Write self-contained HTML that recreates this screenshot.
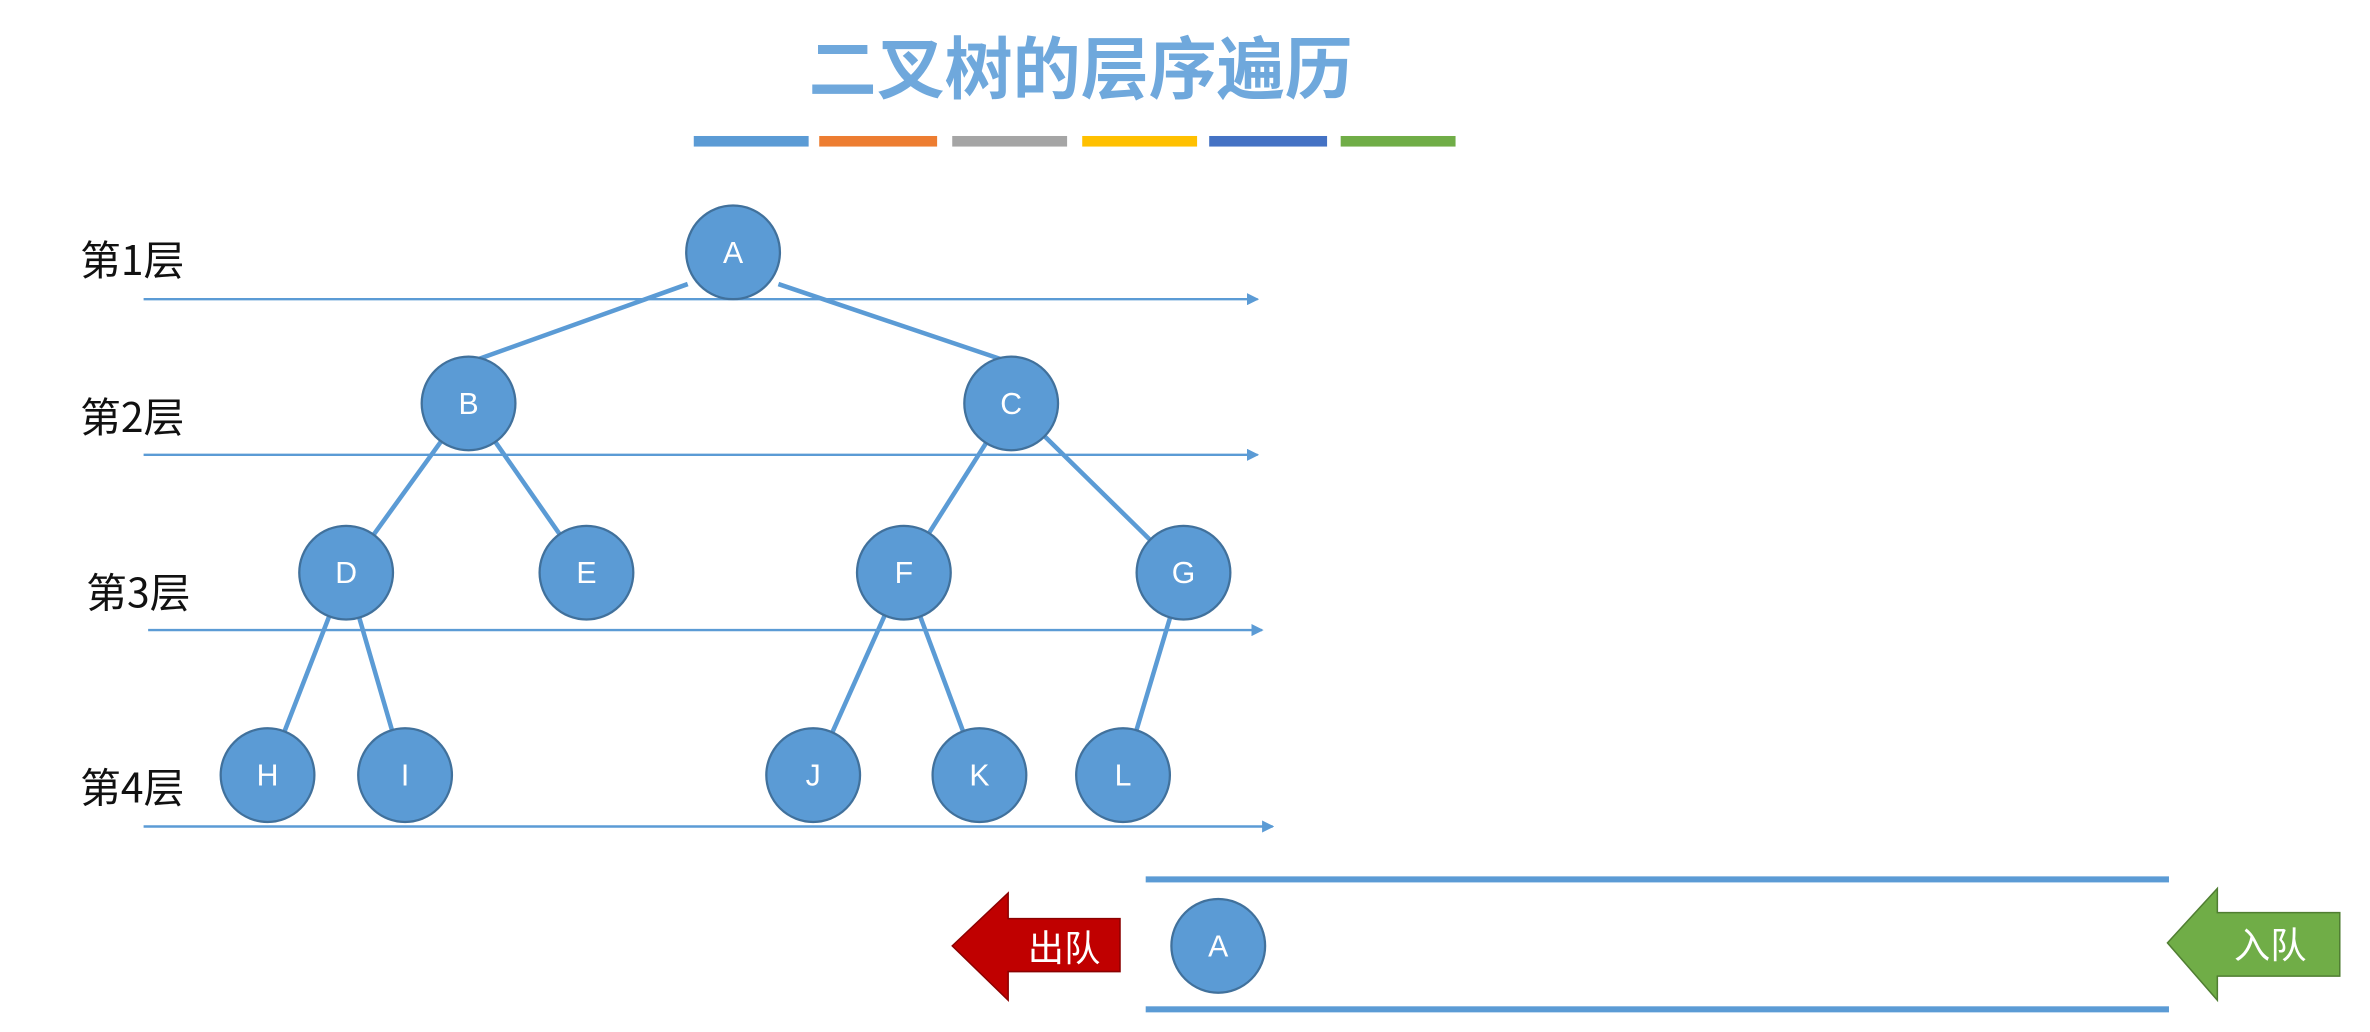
<!DOCTYPE html>
<html><head><meta charset="utf-8"><style>html,body{margin:0;padding:0;background:#fff;overflow:hidden}svg{display:block}</style></head>
<body>
<svg width="2370" height="1032" viewBox="0 0 1568 683" preserveAspectRatio="none" xmlns="http://www.w3.org/2000/svg" font-family="'Liberation Sans','Noto Sans CJK SC',sans-serif">
<defs><marker id="ar" markerWidth="8" markerHeight="8" refX="7" refY="4" orient="auto" markerUnits="userSpaceOnUse"><path d="M0,0 L8,4 L0,8 z" fill="#5b9bd5"/></marker></defs>
<text x="715" y="62" text-anchor="middle" font-size="45" fill="#6fa8dc" font-weight="bold" font-family="'Noto Sans CJK SC',sans-serif">二叉树的层序遍历</text>
<g>
<rect x="459" y="90" width="76" height="7" fill="#5b9bd5"/>
<rect x="542" y="90" width="78" height="7" fill="#ed7d31"/>
<rect x="630" y="90" width="76" height="7" fill="#a5a5a5"/>
<rect x="716" y="90" width="76" height="7" fill="#ffc000"/>
<rect x="800" y="90" width="78" height="7" fill="#4472c4"/>
<rect x="887" y="90" width="76" height="7" fill="#70ad47"/>
</g>
<g font-size="27" fill="#111" font-family="'Noto Sans CJK SC',sans-serif">
<text x="53" y="182">第1层</text>
<text x="53" y="286">第2层</text>
<text x="57" y="402">第3层</text>
<text x="53" y="531">第4层</text>
</g>
<g stroke="#5b9bd5" stroke-width="1.6" marker-end="url(#ar)">
<line x1="95" y1="198" x2="832" y2="198"/>
<line x1="95" y1="301" x2="832" y2="301"/>
<line x1="98" y1="417" x2="835" y2="417"/>
<line x1="95" y1="547" x2="842" y2="547"/>
</g>
<g stroke="#5b9bd5" stroke-width="3">
<line x1="455" y1="188" x2="310" y2="240"/><line x1="515" y1="188" x2="669" y2="240"/>
<line x1="310" y1="267" x2="229" y2="379"/><line x1="310" y1="267" x2="388" y2="379"/>
<line x1="669" y1="267" x2="598" y2="379"/><line x1="669" y1="267" x2="783" y2="379"/>
<line x1="229" y1="379" x2="177" y2="513"/><line x1="229" y1="379" x2="268" y2="513"/>
<line x1="598" y1="379" x2="538" y2="513"/><line x1="598" y1="379" x2="648" y2="513"/>
<line x1="783" y1="379" x2="743" y2="513"/>
</g>
<g fill="#5b9bd5" stroke="#41719c" stroke-width="1.5">
<circle cx="485" cy="167" r="31"/><circle cx="310" cy="267" r="31"/><circle cx="669" cy="267" r="31"/>
<circle cx="229" cy="379" r="31"/><circle cx="388" cy="379" r="31"/><circle cx="598" cy="379" r="31"/><circle cx="783" cy="379" r="31"/>
<circle cx="177" cy="513" r="31"/><circle cx="268" cy="513" r="31"/><circle cx="538" cy="513" r="31"/><circle cx="648" cy="513" r="31"/><circle cx="743" cy="513" r="31"/>
<circle cx="806" cy="626" r="31"/>
</g>
<g fill="#fff" font-size="20" text-anchor="middle">
<text x="485" y="174">A</text><text x="310" y="274">B</text><text x="669" y="274">C</text>
<text x="229" y="386">D</text><text x="388" y="386">E</text><text x="598" y="386">F</text><text x="783" y="386">G</text>
<text x="177" y="520">H</text><text x="268" y="520">I</text><text x="538" y="520">J</text><text x="648" y="520">K</text><text x="743" y="520">L</text>
<text x="806" y="633">A</text>
</g>
<rect x="758" y="580" width="677" height="4" fill="#5b9bd5"/>
<rect x="758" y="666" width="677" height="4" fill="#5b9bd5"/>
<path d="M630,626 L667,591 L667,608 L741,608 L741,643 L667,643 L667,662 Z" fill="#c00000" stroke="#8b0000" stroke-width="1"/>
<text x="704" y="636" fill="#fff" font-size="24" text-anchor="middle" font-family="'Noto Sans CJK SC',sans-serif">出队</text>
<path d="M1434,624 L1467,588 L1467,604 L1548,604 L1548,646 L1467,646 L1467,662 Z" fill="#70ad47" stroke="#507e32" stroke-width="1"/>
<text x="1502" y="634" fill="#fff" font-size="24" text-anchor="middle" font-family="'Noto Sans CJK SC',sans-serif">入队</text>
</svg>
</body></html>
